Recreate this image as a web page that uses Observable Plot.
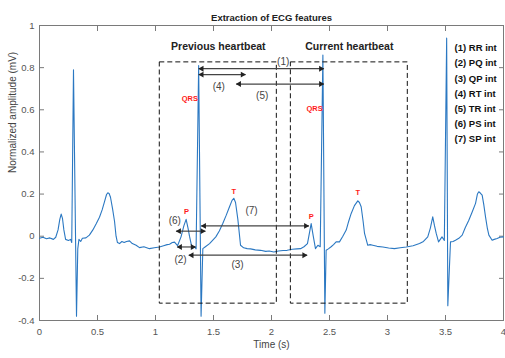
<!DOCTYPE html>
<html><head><meta charset="utf-8">
<script src="https://cdn.jsdelivr.net/npm/d3@7"></script>
<script src="https://cdn.jsdelivr.net/npm/@observablehq/plot@0.6"></script>
<style>
body{margin:0;background:#fff;}
#chart svg{display:block;}
</style></head><body><div id="chart"></div>
<script>
// ECG trace (time in s, normalized amplitude in mV)
const time = [0,0.03,0.06,0.09,0.12,0.14,0.16,0.175,0.187,0.198,0.21,0.225,0.25,0.268,0.278,0.293,0.319,0.33,0.34,0.355,0.37,
  0.40,0.43,0.46,0.49,0.517,0.54,0.56,0.578,0.589,0.60,0.612,0.63,0.647,0.66,0.672,0.69,0.71,0.73,0.75,0.776,0.80,0.833,0.862,
  0.90,0.948,0.99,1.034,1.07,1.10,1.121,1.145,1.164,1.19,1.22,1.245,1.264,1.28,1.293,1.316,1.336,1.35,1.372,1.393,1.408,1.43,
  1.466,1.50,1.52,1.55,1.58,1.61,1.638,1.66,1.675,1.69,1.71,1.733,1.76,1.79,1.82,1.86,1.905,1.95,1.98,2.02,2.06,2.10,2.135,2.18,
  2.22,2.25,2.28,2.31,2.342,2.36,2.379,2.40,2.42,2.443,2.46,2.471,2.49,2.514,2.535,2.557,2.586,2.615,2.644,2.665,2.687,2.715,
  2.744,2.758,2.773,2.79,2.802,2.83,2.85,2.873,2.91,2.96,3.01,3.06,3.11,3.161,3.22,3.276,3.31,3.347,3.37,3.39,3.405,3.42,3.44,
  3.47,3.49,3.51,3.52,3.543,3.565,3.586,3.615,3.644,3.67,3.701,3.73,3.759,3.775,3.787,3.80,3.816,3.83,3.845,3.86,3.874,3.902,
  3.92,3.945,3.97,4.0];
const amplitude = [-0.01,-0.005,-0.012,-0.008,-0.015,-0.005,0.03,0.08,0.105,0.085,0.03,-0.015,-0.02,-0.015,-0.03,0.79,-0.38,-0.06,-0.015,-0.025,-0.01,
  -0.008,0.005,0.03,0.06,0.09,0.125,0.163,0.198,0.206,0.203,0.185,0.13,0.07,0.0,-0.03,-0.035,-0.025,-0.03,-0.025,-0.022,-0.035,-0.043,-0.054,
  -0.05,-0.059,-0.055,-0.051,-0.045,-0.04,-0.038,-0.03,-0.028,-0.045,-0.003,0.05,0.08,0.04,0.0,-0.059,-0.05,-0.06,0.81,-0.38,-0.059,-0.05,
  -0.035,-0.015,-0.003,0.025,0.06,0.1,0.14,0.17,0.18,0.16,0.08,-0.043,-0.055,-0.059,-0.06,-0.065,-0.067,-0.072,-0.07,-0.075,-0.07,-0.068,-0.067,-0.062,
  -0.06,-0.059,-0.05,-0.035,0.06,0.0,-0.059,-0.043,-0.05,0.86,-0.365,-0.067,-0.06,-0.05,-0.04,-0.027,-0.027,0.0,0.029,0.07,0.108,0.145,
  0.168,0.16,0.14,0.07,0.013,-0.043,-0.04,-0.043,-0.048,-0.051,-0.056,-0.059,-0.055,-0.051,-0.045,-0.035,-0.025,-0.003,0.04,0.092,0.05,0.013,-0.027,
  -0.003,-0.02,0.94,-0.33,-0.027,-0.025,-0.019,-0.01,0.005,0.04,0.076,0.115,0.156,0.2,0.211,0.205,0.195,0.15,0.092,0.04,0.005,-0.019,
  -0.015,-0.011,-0.005,-0.003];

const xTicks = [0,0.5,1,1.5,2,2.5,3,3.5,4];
const yTicks = [-0.4,-0.2,0,0.2,0.4,0.6,0.8,1];
const legendLabels = ["(1) RR int","(2) PQ int","(3) QP int","(4) RT int","(5) TR int","(6) PS int","(7) SP int"];

// annotation layout
const boxes = [
  {label:"Previous heartbeat", x1:1.037, x2:2.046},
  {label:"Current heartbeat", x1:2.167, x2:3.175}
];
const boxY1 = -0.32, boxY2 = 0.825, boxLabelY = 0.90;
const intervals = [
  {label:"(1)", x1:1.373, x2:2.451, y:0.795, lx:2.101, ly:0.826},
  {label:"(2)", x1:1.187, x2:1.345, y:-0.051, lx:1.216, ly:-0.11},
  {label:"(3)", x1:1.287, x2:2.307, y:-0.09, lx:1.707, ly:-0.138},
  {label:"(4)", x1:1.373, x2:1.776, y:0.767, lx:1.546, ly:0.711},
  {label:"(5)", x1:1.696, x2:2.451, y:0.722, lx:1.92, ly:0.667},
  {label:"(6)", x1:1.178, x2:1.43, y:0.024, lx:1.166, ly:0.075},
  {label:"(7)", x1:1.394, x2:2.322, y:0.049, lx:1.828, ly:0.12}
];
const waveLabels = [
  {text:"QRS", x:1.296, y:0.651},
  {text:"QRS", x:2.371, y:0.608},
  {text:"P", x:1.267, y:0.116},
  {text:"P", x:2.342, y:0.094},
  {text:"T", x:1.675, y:0.214},
  {text:"T", x:2.744, y:0.208}
];

const signal = time.map((t, i) => ({t, v: amplitude[i]}));
const FONT = '"Liberation Sans",Arial,sans-serif';
const axisColor = "#7a7a7a";

const chart = Plot.plot({
  width: 505,
  height: 358,
  marginLeft: 39,
  marginRight: 2,
  marginTop: 25,
  marginBottom: 38,
  style: {fontFamily: FONT, background: "#fff"},
  x: {domain: [0, 4]},
  y: {domain: [-0.4, 1]},
  marks: [
    Plot.frame({stroke: axisColor}),
    Plot.axisX({ticks: xTicks, anchor: "bottom", tickSize: -5, tickPadding: 13, tickFormat: d => String(d), label: null, fontSize: 9.5, color: "#555", stroke: axisColor, ariaLabel: "xticks"}),
    Plot.axisX({ticks: xTicks, anchor: "top", tickSize: -5, tickFormat: () => "", label: null, stroke: axisColor}),
    Plot.axisY({ticks: yTicks, anchor: "left", tickSize: -5, tickPadding: 10, tickFormat: d => String(d), label: null, fontSize: 9.5, color: "#555", stroke: axisColor, ariaLabel: "yticks"}),
    Plot.axisY({ticks: yTicks, anchor: "right", tickSize: -5, tickFormat: () => "", label: null, stroke: axisColor}),
    Plot.line(signal, {x: "t", y: "v", stroke: "#2b78c2", strokeWidth: 1.1}),
    Plot.rect(boxes, {x1: "x1", x2: "x2", y1: boxY1, y2: boxY2, fill: "none", stroke: "#111", strokeWidth: 1, strokeDasharray: "5,3"}),
    Plot.text(boxes, {x: d => (d.x1 + d.x2) / 2, y: boxLabelY, text: "label", fontWeight: "bold", fontSize: 10.5, fill: "#222", ariaLabel: "boxlabels"}),
    Plot.link(intervals, {x1: "x1", x2: "x2", y1: "y", y2: "y", stroke: "#444", strokeWidth: 1.2}),
    Plot.dot(intervals, {x: "x2", y: "y", symbol: "triangle", r: 2.2, rotate: 90, dx: -3, fill: "#222", stroke: "none"}),
    Plot.dot(intervals, {x: "x1", y: "y", symbol: "triangle", r: 2.2, rotate: -90, dx: 3, fill: "#222", stroke: "none"}),
    Plot.text(intervals, {x: "lx", y: "ly", text: "label", fontSize: 10, fill: "#444", ariaLabel: "intlabels"}),
    Plot.text(waveLabels, {x: "x", y: "y", text: "text", fontSize: 7.5, fontWeight: "bold", fill: "#ff1a1a", ariaLabel: "wavelabels"}),
    Plot.text([legendLabels.join("\n")], {x: 3.578, y: 0.929, textAnchor: "start", lineAnchor: "top", lineHeight: 1.6, fontSize: 9.5, fontWeight: "bold", fill: "#111", ariaLabel: "legend"}),
    Plot.text(["Extraction of ECG features"], {frameAnchor: "top", dy: -11, fontWeight: "bold", fontSize: 9.5, fill: "#222", ariaLabel: "title"}),
    Plot.text(["Normalized amplitude (mV)"], {frameAnchor: "left", dx: -27, rotate: -90, fontSize: 10, fill: "#444"}),
    Plot.text(["Time (s)"], {frameAnchor: "bottom", dy: 27, fontSize: 10, fill: "#444", ariaLabel: "xlabel"})
  ]
});
document.getElementById("chart").appendChild(chart);

// narrow (Arial Narrow-like) lettering as in the reference: fit to the widths seen there
function squeeze(name, fit) {
  d3.select(chart).selectAll(`g[aria-label="${name}"] text`).each(function(d, i) {
    const len = this.getBBox().width || 1;
    const s = fit(len, i);
    const tr = this.getAttribute("transform") || "";
    this.setAttribute("transform", `${tr} scale(${s},1)`);
  });
}
const targetWidths = {title: [108], boxlabels: [85, 79], legend: [33], xlabel: [31]};
for (const [name, w] of Object.entries(targetWidths)) {
  squeeze(name, (len, i) => (w[i] ?? w[0]) / len);
}
squeeze("wavelabels", () => 0.8);
squeeze("intlabels", () => 0.82);
squeeze("xticks", () => 0.85);
squeeze("yticks", () => 0.85);
</script></body></html>
